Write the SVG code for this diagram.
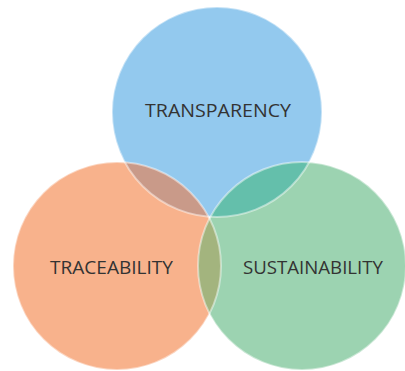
<svg xmlns="http://www.w3.org/2000/svg" width="405" height="371" viewBox="0 0 405 371">
<style>
.lbl{font-family:"Open Sans","Liberation Sans",sans-serif;font-size:19px;fill:#333333;text-anchor:middle}
.edge{fill:none;stroke:#ffffff;stroke-width:2;stroke-opacity:0.45}
</style>
<defs>
<clipPath id="cB"><circle cx="217" cy="112" r="105"/></clipPath>
<clipPath id="cO"><circle cx="117" cy="266" r="104"/></clipPath>
<clipPath id="cG"><circle cx="302" cy="266" r="104"/></clipPath>
</defs>
<rect width="405" height="371" fill="#ffffff"/>
<g id="transparency"><circle cx="217" cy="112" r="105" fill="#93C9EE"/></g>
<g id="traceability"><circle cx="117" cy="266" r="104" fill="#F8B28C"/></g>
<g id="sustainability"><circle cx="302" cy="266" r="104" fill="#9CD3B1"/></g>
<g id="overlaps">
<circle cx="117" cy="266" r="104" fill="#C99A89" clip-path="url(#cB)"/>
<circle cx="302" cy="266" r="104" fill="#64BFAB" clip-path="url(#cB)"/>
<circle cx="302" cy="266" r="104" fill="#A3B47E" clip-path="url(#cO)"/>
<g clip-path="url(#cB)"><circle cx="302" cy="266" r="104" fill="#8FA88E" clip-path="url(#cO)"/></g>
</g>
<g id="edges">
<circle class="edge" cx="117" cy="266" r="104"/>
<circle class="edge" cx="302" cy="266" r="104"/>
<circle class="edge" cx="217" cy="112" r="105" stroke-opacity="0.6"/>
</g>
<text class="lbl" x="218" y="117" textLength="146" lengthAdjust="spacingAndGlyphs">TRANSPARENCY</text>
<text class="lbl" x="111.5" y="274" textLength="123" lengthAdjust="spacingAndGlyphs">TRACEABILITY</text>
<text class="lbl" x="313" y="274" textLength="140" lengthAdjust="spacingAndGlyphs">SUSTAINABILITY</text>
</svg>
